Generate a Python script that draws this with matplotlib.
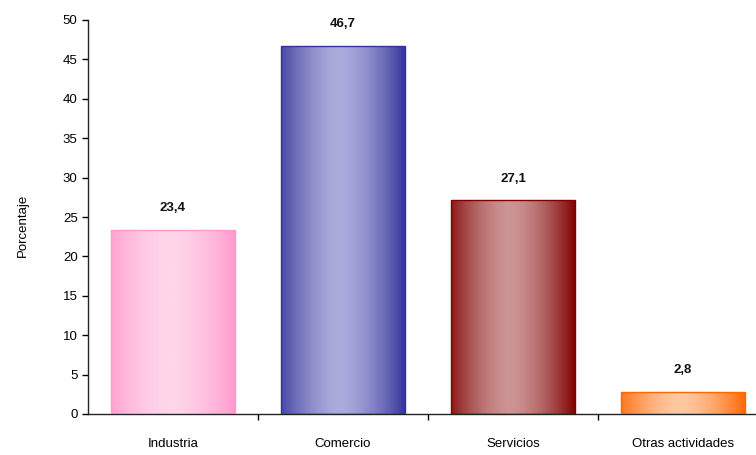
import numpy as np
import matplotlib
matplotlib.use("Agg")
import matplotlib.pyplot as plt
from matplotlib.colors import LinearSegmentedColormap

categories = ["Industria", "Comercio", "Servicios", "Otras actividades"]
values = [23.4, 46.7, 27.1, 2.8]
labels = ["23,4", "46,7", "27,1", "2,8"]
edge_colors = ["#FF99CC", "#333399", "#800000", "#FF6600"]
mid_colors = ["#FFD6EA", "#ABABDC", "#CC9494", "#FFC8A0"]

plt.rcParams['font.family'] = ['Liberation Sans', 'DejaVu Sans']

fig = plt.figure(figsize=(7.56, 4.55), dpi=100)
W, H = 756, 455
left, right, bottom, top = 88, 768, 414, 20
ax = fig.add_axes([left / W, 1 - bottom / H, (right - left) / W, (bottom - top) / H])

ax.set_xlim(-0.5, 3.5)
ax.set_ylim(0, 50)
width = 0.73

grad = np.linspace(0, 1, 256)
prof = np.clip(1 - np.abs((grad - 0.47) / 0.53) ** 1.6, 0, 1)[None, :]

for i, (v, ec, mc) in enumerate(zip(values, edge_colors, mid_colors)):
    x0 = i - width / 2
    bar = ax.bar(i, v, width=width, color="none", edgecolor="none", zorder=2)[0]
    cmap = LinearSegmentedColormap.from_list(f"c{i}", [ec, mc])
    im = ax.imshow(prof, cmap=cmap, vmin=0, vmax=1, aspect="auto",
                   extent=(x0, x0 + width, 0, v), zorder=2, interpolation="bicubic")
    im.set_clip_path(bar)
    ax.bar(i, v, width=width, color="none", edgecolor=ec, linewidth=1.0, zorder=3)
    ax.text(i, v + 2.0, labels[i], ha="center", va="bottom", fontsize=9.5,
            fontweight="bold", color="#111111")

ax.set_xlim(-0.5, 3.5)
ax.set_ylim(0, 50)
ax.set_xticks([0.5, 1.5, 2.5])
ax.set_xticklabels([])
ax.set_xticks(range(4), minor=True)
ax.set_xticklabels(categories, minor=True, fontsize=9.5)
ax.tick_params(axis="x", which="minor", length=0, pad=17)
ax.tick_params(axis="x", which="major", length=4, direction="out", width=1)
ax.set_yticks(range(0, 51, 5))
ax.tick_params(axis="y", length=4, direction="out", labelsize=9.5, width=1)
ax.set_ylabel("Porcentaje", fontsize=9.5)
ax.yaxis.set_label_coords(-0.087, 0.48)

for s in ["top", "right"]:
    ax.spines[s].set_visible(False)
for s in ["left", "bottom"]:
    ax.spines[s].set_linewidth(1.0)
    ax.spines[s].set_color("#222222")

fig.savefig("out.png", dpi=100)
